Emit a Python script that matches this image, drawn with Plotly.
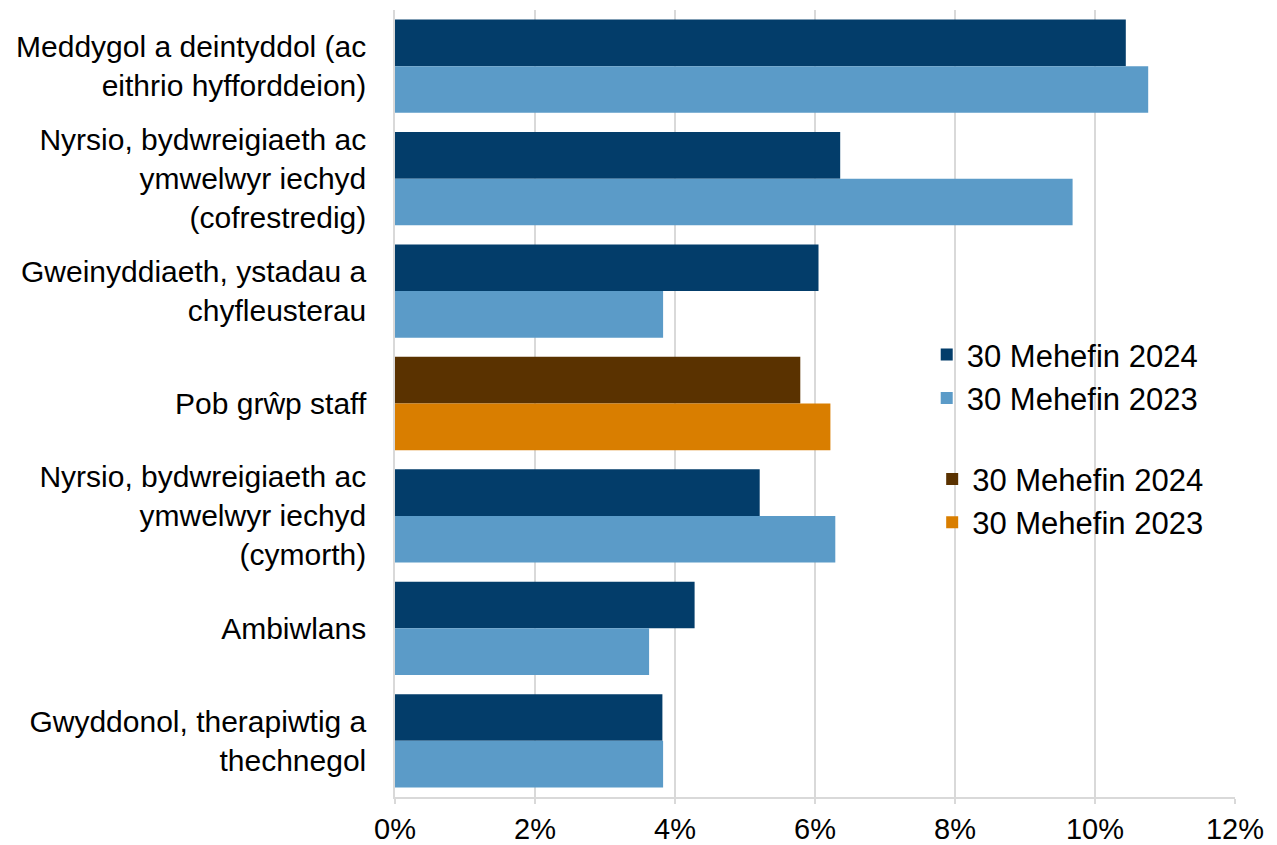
import plotly.graph_objects as go

categories = [
    "Meddygol a deintyddol (ac<br>eithrio hyfforddeion)",
    "Nyrsio, bydwreigiaeth ac<br>ymwelwyr iechyd<br>(cofrestredig)",
    "Gweinyddiaeth, ystadau a<br>chyfleusterau",
    "Pob grŵp staff",
    "Nyrsio, bydwreigiaeth ac<br>ymwelwyr iechyd<br>(cymorth)",
    "Ambiwlans",
    "Gwyddonol, therapiwtig a<br>thechnegol",
]
values_2024 = [10.44, 6.36, 6.05, 5.79, 5.21, 4.28, 3.82]
values_2023 = [10.76, 9.68, 3.83, 6.22, 6.29, 3.63, 3.83]
highlight = "Pob grŵp staff"
series_names = ["30 Mehefin 2024", "30 Mehefin 2023"]
x_ticks = [0, 2, 4, 6, 8, 10, 12]

C24, C23 = "#033d6a", "#5b9bc8"
H24, H23 = "#5a3200", "#d97e00"

def split(vals):
    normal_c, normal_v, hi_c, hi_v = [], [], [], []
    for c, v in zip(categories, vals):
        if c == highlight:
            hi_c.append(c); hi_v.append(v)
        else:
            normal_c.append(c); normal_v.append(v)
    return normal_c, normal_v, hi_c, hi_v

n24c, n24v, h24c, h24v = split(values_2024)
n23c, n23v, h23c, h23v = split(values_2023)

fig = go.Figure()
fig.add_trace(go.Bar(y=n24c, x=n24v, orientation="h", name=series_names[0],
                     marker=dict(color=C24, line=dict(width=0)), offsetgroup="a",
                     legend="legend", legendgroup="g1"))
fig.add_trace(go.Bar(y=n23c, x=n23v, orientation="h", name=series_names[1],
                     marker=dict(color=C23, line=dict(width=0)), offsetgroup="b",
                     legend="legend", legendgroup="g2"))
fig.add_trace(go.Bar(y=h24c, x=h24v, orientation="h", name=series_names[0],
                     marker=dict(color=H24, line=dict(width=0)), offsetgroup="a",
                     legend="legend2", legendgroup="g3"))
fig.add_trace(go.Bar(y=h23c, x=h23v, orientation="h", name=series_names[1],
                     marker=dict(color=H23, line=dict(width=0)), offsetgroup="b",
                     legend="legend2", legendgroup="g4"))

FAM = "Liberation Sans, Arial, sans-serif"
xfont = dict(family=FAM, size=29, color="#000000")
lfont = dict(family=FAM, size=31, color="#000000")
yfont = dict(family=FAM, size=30, color="#000000")

# page body has an 8px margin, so the figure is sized to fit the window
fig.update_layout(
    width=1269, height=837,
    margin=dict(l=387, r=42, t=2, b=48, autoexpand=False),
    paper_bgcolor="white", plot_bgcolor="white",
    barmode="group", bargap=0.17, bargroupgap=0,
    font=yfont,
    showlegend=True,
    legend=dict(x=0.633, y=0.596, xanchor="left", yanchor="top", bgcolor="rgba(0,0,0,0)",
                traceorder="normal", tracegroupgap=2, font=lfont, itemwidth=30),
    legend2=dict(x=0.6395, y=0.438, xanchor="left", yanchor="top", bgcolor="rgba(0,0,0,0)",
                 traceorder="normal", tracegroupgap=14, font=lfont, itemwidth=30),
    xaxis=dict(range=[0, 12], tickvals=x_ticks, ticktext=[f"{t}%" for t in x_ticks],
               showgrid=True, gridcolor="#d9d9d9", gridwidth=1.5,
               showline=True, linecolor="#d9d9d9", linewidth=1.5,
               ticks="outside", ticklen=5, tickcolor="#d9d9d9", tickwidth=1.5,
               zeroline=False, tickfont=xfont, automargin=False),
    yaxis=dict(categoryorder="array", categoryarray=categories, autorange="reversed",
               showline=True, linecolor="#d9d9d9", linewidth=1.5, ticks="",
               ticklabelstandoff=21, tickfont=yfont, showgrid=False, automargin=False),
)

fig.write_html("out.html")
